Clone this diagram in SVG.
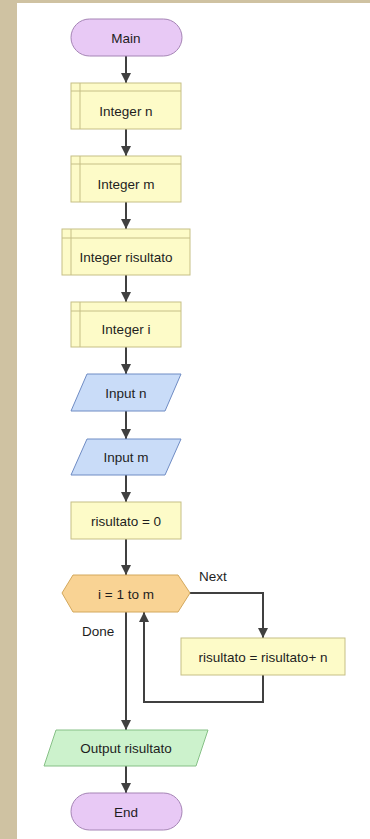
<svg xmlns="http://www.w3.org/2000/svg" width="370" height="839" viewBox="0 0 370 839">
  <style>
    text { font-family: "Liberation Sans", Arial, sans-serif; font-size: 13.5px; fill: #1e1e1e; text-anchor: middle; dominant-baseline: central; }
    .term { fill: #e8c9f5; stroke: #a584b5; stroke-width: 1; }
    .decl { fill: #fdfbc8; stroke: #c6bf86; stroke-width: 1; }
    .proc { fill: #fdfbc8; stroke: #c6bf86; stroke-width: 1; }
    .io { fill: #c9dcf8; stroke: #6f8cc4; stroke-width: 1; }
    .out { fill: #ccf2cc; stroke: #86c086; stroke-width: 1; }
    .loop { fill: #f9d394; stroke: #d3a85c; stroke-width: 1; }
    .edge { fill: none; stroke: #404040; stroke-width: 2; }
    .lbl { text-anchor: start; }
  </style>
  <defs>
    <marker id="arrow" viewBox="0 0 10 10" refX="10" refY="5" markerWidth="5" markerHeight="5" orient="auto" markerUnits="strokeWidth">
      <path d="M0,0 L10,5 L0,10 z" fill="#404040"/>
    </marker>
  </defs>

  <!-- page background -->
  <rect x="0" y="0" width="370" height="839" fill="#cfc2a2"/>
  <rect x="17" y="3" width="353" height="836" fill="#ffffff"/>

  <!-- connectors -->
  <g id="connectors">
    <path class="edge" d="M126,56 V83" marker-end="url(#arrow)"/>
    <path class="edge" d="M126,129 V156" marker-end="url(#arrow)"/>
    <path class="edge" d="M126,202 V229" marker-end="url(#arrow)"/>
    <path class="edge" d="M126,275 V302" marker-end="url(#arrow)"/>
    <path class="edge" d="M126,347 V374" marker-end="url(#arrow)"/>
    <path class="edge" d="M126,411 V439" marker-end="url(#arrow)"/>
    <path class="edge" d="M126,475 V502" marker-end="url(#arrow)"/>
    <path class="edge" d="M126,539 V575" marker-end="url(#arrow)"/>
    <path class="edge" d="M190,593 H263 V638" marker-end="url(#arrow)"/>
    <path class="edge" d="M263,675 V702 H144 V612" marker-end="url(#arrow)"/>
    <path class="edge" d="M126,612 V730" marker-end="url(#arrow)"/>
    <path class="edge" d="M126,766 V793" marker-end="url(#arrow)"/>
    <text class="lbl" x="199" y="576">Next</text>
    <text class="lbl" x="82" y="631">Done</text>
  </g>

  <g id="main">
    <rect class="term" x="71" y="19" width="111" height="37" rx="18.5"/>
    <text x="126" y="38">Main</text>
  </g>

  <g id="decl-n">
    <rect class="decl" x="71" y="83" width="110" height="46"/>
    <path class="decl" d="M80,83 V129 M71,91 H181" fill="none"/>
    <text x="126" y="111">Integer n</text>
  </g>

  <g id="decl-m">
    <rect class="decl" x="71" y="156" width="110" height="46"/>
    <path class="decl" d="M80,156 V202 M71,164 H181" fill="none"/>
    <text x="126" y="184">Integer m</text>
  </g>

  <g id="decl-risultato">
    <rect class="decl" x="62" y="229" width="128" height="46"/>
    <path class="decl" d="M71,229 V275 M62,238 H190" fill="none"/>
    <text x="126" y="257">Integer risultato</text>
  </g>

  <g id="decl-i">
    <rect class="decl" x="71" y="302" width="110" height="45"/>
    <path class="decl" d="M80,302 V347 M71,311 H181" fill="none"/>
    <text x="126" y="329">Integer i</text>
  </g>

  <g id="input-n">
    <polygon class="io" points="87,374 181,374 165,411 71,411"/>
    <text x="126" y="393">Input n</text>
  </g>

  <g id="input-m">
    <polygon class="io" points="87,439 181,439 165,475 71,475"/>
    <text x="126" y="457">Input m</text>
  </g>

  <g id="init">
    <rect class="proc" x="71" y="502" width="110" height="37"/>
    <text x="126" y="521">risultato = 0</text>
  </g>

  <g id="for-loop">
    <polygon class="loop" points="62,593 73,575 178,575 190,593 178,612 73,612"/>
    <text x="126" y="594">i = 1 to m</text>
  </g>

  <g id="accumulate">
    <rect class="proc" x="181" y="638" width="164" height="37"/>
    <text x="263" y="657">risultato = risultato+ n</text>
  </g>

  <g id="output">
    <polygon class="out" points="56,730 208,730 196,766 44,766"/>
    <text x="126" y="748">Output risultato</text>
  </g>

  <g id="end">
    <rect class="term" x="71" y="793" width="111" height="37" rx="18.5"/>
    <text x="126" y="812">End</text>
  </g>
</svg>
